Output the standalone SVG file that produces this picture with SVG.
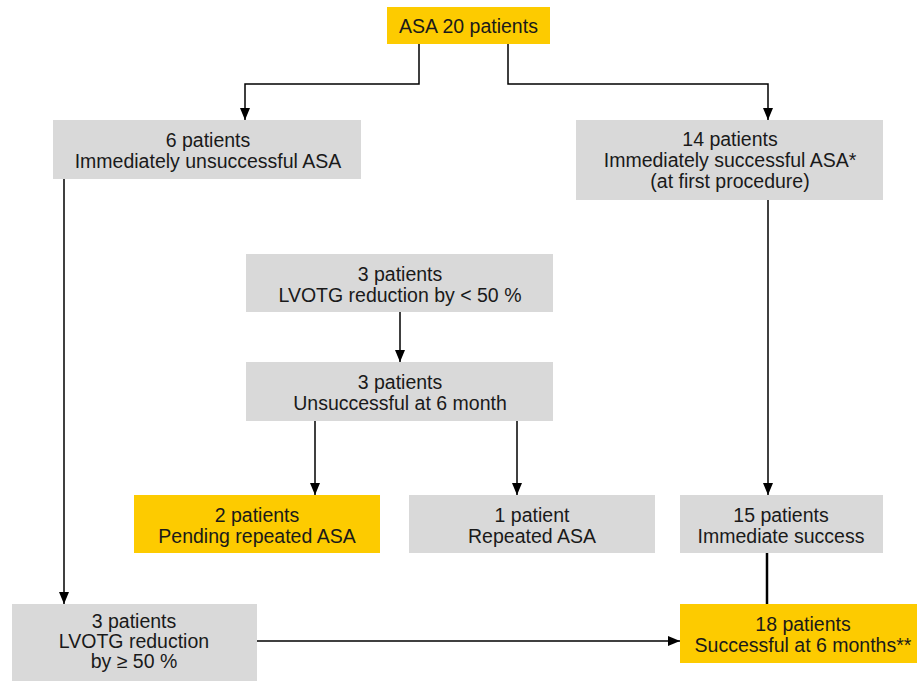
<svg xmlns="http://www.w3.org/2000/svg" width="917" height="681" viewBox="0 0 917 681">
<defs>
<style>
.g{fill:#d9d9d9}
.y{fill:#fdcb00}
text{font-family:"Liberation Sans",Arial,sans-serif;font-size:19.5px;fill:#1a1a1a;text-anchor:middle}
.c{fill:none;stroke:#000;stroke-width:1.5}
</style>
<marker id="ah" viewBox="0 0 12 10" refX="12" refY="5" markerWidth="12" markerHeight="10" markerUnits="userSpaceOnUse" orient="auto">
<path d="M0,0 L12,5 L0,10 z" fill="#000"/>
</marker>
</defs>
<rect width="917" height="681" fill="#fff"/>
<g id="connectors">
<path class="c" d="M419,44 V84 H245 V120" marker-end="url(#ah)"/>
<path class="c" d="M508,44 V84 H768 V120" marker-end="url(#ah)"/>
<path class="c" d="M64,179 V604" marker-end="url(#ah)"/>
<path class="c" d="M768,200 V495" marker-end="url(#ah)"/>
<path class="c" d="M400,312 V362" marker-end="url(#ah)"/>
<path class="c" d="M315,421 V495" marker-end="url(#ah)"/>
<path class="c" d="M517,421 V495" marker-end="url(#ah)"/>
<path class="c" d="M767,553 V604" style="stroke-width:2.5"/>
<path class="c" d="M257,641 H680" marker-end="url(#ah)"/>
</g>
<g id="n-top">
<rect class="y" x="387" y="7" width="163" height="37"/>
<text x="468.5" y="33">ASA 20 patients</text>
</g>
<g id="n-unsucc">
<rect class="g" x="53" y="120" width="308" height="59"/>
<text x="208" y="147">6 patients</text>
<text x="208" y="168">Immediately unsuccessful ASA</text>
</g>
<g id="n-succ">
<rect class="g" x="576" y="120" width="307" height="80"/>
<text x="730" y="146">14 patients</text>
<text x="730" y="167">Immediately successful ASA*</text>
<text x="730" y="188">(at first procedure)</text>
</g>
<g id="n-lt50">
<rect class="g" x="246" y="254" width="307" height="58"/>
<text x="400" y="281">3 patients</text>
<text x="400" y="302">LVOTG reduction by &lt; 50 %</text>
</g>
<g id="n-unsucc6">
<rect class="g" x="246" y="362" width="307" height="59"/>
<text x="400" y="389">3 patients</text>
<text x="400" y="410">Unsuccessful at 6 month</text>
</g>
<g id="n-pending">
<rect class="y" x="134" y="495" width="246" height="58"/>
<text x="257" y="522">2 patients</text>
<text x="257" y="543">Pending repeated ASA</text>
</g>
<g id="n-repeated">
<rect class="g" x="409" y="495" width="246" height="58"/>
<text x="532" y="522">1 patient</text>
<text x="532" y="543">Repeated ASA</text>
</g>
<g id="n-immediate">
<rect class="g" x="680" y="495" width="203" height="58"/>
<text x="781" y="522">15 patients</text>
<text x="781" y="543">Immediate success</text>
</g>
<g id="n-ge50">
<rect class="g" x="12" y="604" width="245" height="77"/>
<text x="134" y="628">3 patients</text>
<text x="134" y="648">LVOTG reduction</text>
<text x="134" y="668">by ≥ 50 %</text>
</g>
<g id="n-success6">
<rect class="y" x="680" y="604" width="246" height="59"/>
<text x="803" y="631">18 patients</text>
<text x="803" y="652">Successful at 6 months**</text>
</g>
</svg>
